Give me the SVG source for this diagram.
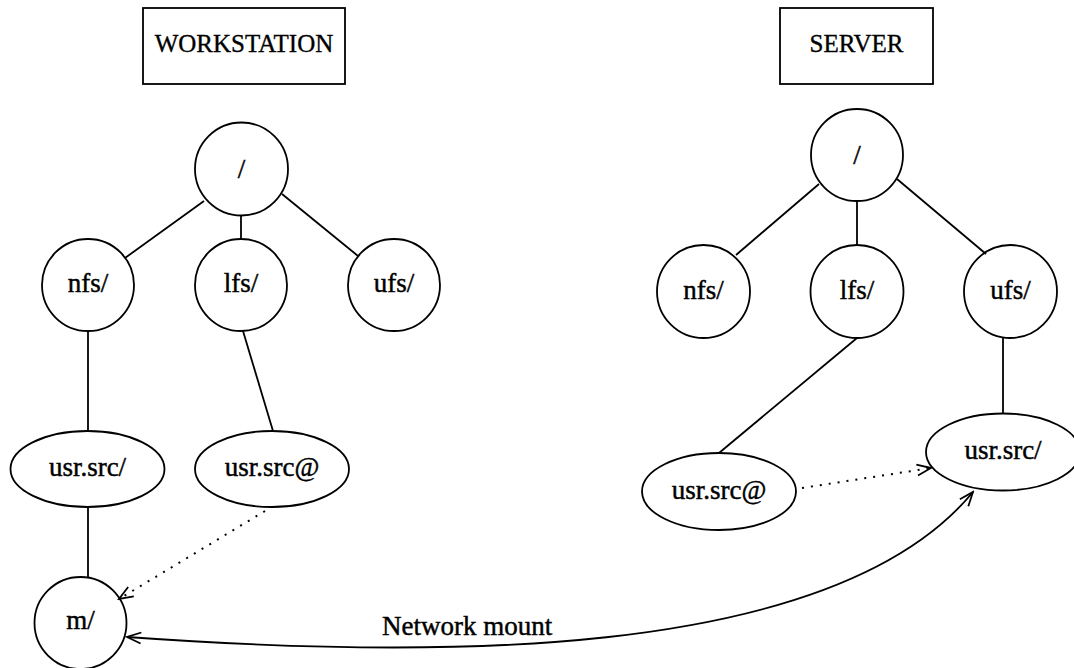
<svg xmlns="http://www.w3.org/2000/svg" width="1074" height="668" viewBox="0 0 1074 668">
<style>
  .shape { fill: none; stroke: #000; stroke-width: 1.8; }
  .lbl { font-family: "Liberation Serif", "Times New Roman", serif; font-size: 27px; fill: #000; stroke: #000; stroke-width: 0.45; text-anchor: middle; }
  .title { font-family: "Liberation Serif", "Times New Roman", serif; font-size: 25px; fill: #000; stroke: #000; stroke-width: 0.35; text-anchor: middle; }
  .edge { fill: none; stroke: #000; stroke-width: 1.8; }
  .dot { fill: none; stroke: #000; stroke-width: 2; stroke-dasharray: 2 7; }
</style>
<defs>
  <marker id="open" viewBox="-15 -8 17 16" refX="0" refY="0" markerWidth="17" markerHeight="16" markerUnits="userSpaceOnUse" orient="auto-start-reverse">
    <path d="M-14,-5.5 L0,0 L-14,5.5" fill="none" stroke="#000" stroke-width="1.8"/>
  </marker>
</defs>
<rect width="1074" height="668" fill="#fff"/>

<g id="connectors">
  <!-- workstation tree -->
  <line class="edge" x1="204" y1="201" x2="125" y2="258"/>
  <line class="edge" x1="241" y1="215.5" x2="241" y2="239"/>
  <line class="edge" x1="282" y1="194" x2="358" y2="256"/>
  <line class="edge" x1="88" y1="331" x2="88" y2="431"/>
  <line class="edge" x1="243" y1="331" x2="273" y2="431"/>
  <line class="edge" x1="88" y1="507" x2="88" y2="577"/>
  <line class="dot" x1="265" y1="511" x2="119" y2="599" marker-end="url(#open)"/>
  <!-- server tree -->
  <line class="edge" x1="819" y1="184" x2="736" y2="255"/>
  <line class="edge" x1="857" y1="201" x2="857" y2="245"/>
  <line class="edge" x1="897" y1="179" x2="986" y2="254"/>
  <line class="edge" x1="857" y1="338" x2="719" y2="453"/>
  <line class="edge" x1="1003" y1="338" x2="1003" y2="413.5"/>
  <line class="dot" x1="802" y1="488" x2="931" y2="468" marker-end="url(#open)"/>
  <!-- network mount -->
  <path class="edge" d="M127,637 C420,658 830,665 973,492" marker-start="url(#open)" marker-end="url(#open)"/>
  <text x="382" y="635" class="lbl" style="text-anchor:start">Network mount</text>
</g>

<g id="ws-title">
  <rect class="shape" x="143" y="8" width="202" height="76"/>
  <text x="244" y="52" class="title">WORKSTATION</text>
</g>
<g id="ws-root">
  <circle class="shape" cx="241.5" cy="169" r="46.5"/>
  <text x="241.5" y="178" class="lbl">/</text>
</g>
<g id="ws-nfs">
  <circle class="shape" cx="88" cy="285" r="46"/>
  <text x="88" y="292" class="lbl">nfs/</text>
</g>
<g id="ws-lfs">
  <circle class="shape" cx="241" cy="285" r="46"/>
  <text x="241" y="292" class="lbl">lfs/</text>
</g>
<g id="ws-ufs">
  <circle class="shape" cx="394" cy="285" r="46"/>
  <text x="394" y="292" class="lbl">ufs/</text>
</g>
<g id="ws-usrsrc">
  <ellipse class="shape" cx="87.5" cy="469" rx="77" ry="38"/>
  <text x="87.5" y="476" class="lbl">usr.src/</text>
</g>
<g id="ws-usrsrc-link">
  <ellipse class="shape" cx="272" cy="469" rx="77" ry="38"/>
  <text x="272" y="476" class="lbl">usr.src@</text>
</g>
<g id="ws-m">
  <circle class="shape" cx="80.5" cy="623" r="46"/>
  <text x="80.5" y="629" class="lbl">m/</text>
</g>

<g id="srv-title">
  <rect class="shape" x="780" y="8" width="153" height="76"/>
  <text x="856.5" y="52" class="title">SERVER</text>
</g>
<g id="srv-root">
  <circle class="shape" cx="857" cy="155" r="46"/>
  <text x="857" y="164" class="lbl">/</text>
</g>
<g id="srv-nfs">
  <circle class="shape" cx="703.5" cy="291.5" r="46.5"/>
  <text x="703.5" y="298.5" class="lbl">nfs/</text>
</g>
<g id="srv-lfs">
  <circle class="shape" cx="857" cy="291.5" r="46.5"/>
  <text x="857" y="298.5" class="lbl">lfs/</text>
</g>
<g id="srv-ufs">
  <circle class="shape" cx="1010.5" cy="291.5" r="46.5"/>
  <text x="1010.5" y="298.5" class="lbl">ufs/</text>
</g>
<g id="srv-usrsrc-link">
  <ellipse class="shape" cx="719" cy="491.5" rx="77" ry="38.5"/>
  <text x="719" y="498.5" class="lbl">usr.src@</text>
</g>
<g id="srv-usrsrc">
  <ellipse class="shape" cx="1003" cy="452" rx="77" ry="38.5"/>
  <text x="1003" y="459" class="lbl">usr.src/</text>
</g>
</svg>
